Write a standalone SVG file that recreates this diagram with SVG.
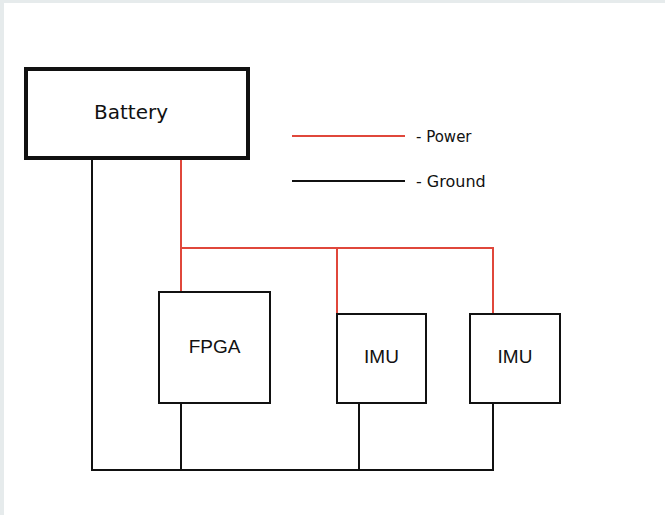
<svg xmlns="http://www.w3.org/2000/svg" width="665" height="515" viewBox="0 0 665 515">
<style>
.box{fill:#fff;stroke:#111;stroke-width:2}
.pwr{fill:none;stroke:#e0473b;stroke-width:2}
.gnd{fill:none;stroke:#111;stroke-width:2}
.lbl{font-family:"Liberation Sans",Arial,sans-serif;font-size:19px;fill:#111;text-anchor:middle}
.hand{font-family:"DejaVu Sans",sans-serif;fill:#111}
</style>
<rect x="0" y="0" width="665" height="515" fill="#fff"/>
<rect x="0" y="0" width="665" height="3" fill="#e6ebec"/>
<rect x="0" y="0" width="4" height="515" fill="#e6ebec"/>
<g id="connectors">
<polyline class="gnd" points="92,160 92,470 493,470 493,403"/>
<line class="gnd" x1="181" y1="403" x2="181" y2="470"/>
<line class="gnd" x1="359" y1="403" x2="359" y2="470"/>
<polyline class="pwr" points="181,160 181,292"/>
<polyline class="pwr" points="181,248 493,248 493,314"/>
<line class="pwr" x1="337" y1="248" x2="337" y2="314"/>
</g>
<g id="battery">
<rect x="26" y="69" width="222" height="89" fill="#fff" stroke="#111" stroke-width="4"/>
<text class="hand" x="131" y="119" font-size="20" text-anchor="middle">Battery</text>
</g>
<g id="legend">
<line class="pwr" x1="292" y1="136" x2="405" y2="136"/>
<line class="gnd" x1="292" y1="181" x2="405" y2="181" stroke-width="2.500"/>
<text class="hand" x="416" y="142" font-size="15">- Power</text>
<text class="hand" x="416" y="187" font-size="16">- Ground</text>
</g>
<g id="fpga">
<rect class="box" x="159" y="292" width="111" height="111"/>
<text class="lbl" x="214.500" y="353">FPGA</text>
</g>
<g id="imu1">
<rect class="box" x="337" y="314" width="89" height="89"/>
<text class="lbl" x="381.500" y="363">IMU</text>
</g>
<g id="imu2">
<rect class="box" x="470" y="314" width="90" height="89"/>
<text class="lbl" x="515" y="363">IMU</text>
</g>
</svg>
